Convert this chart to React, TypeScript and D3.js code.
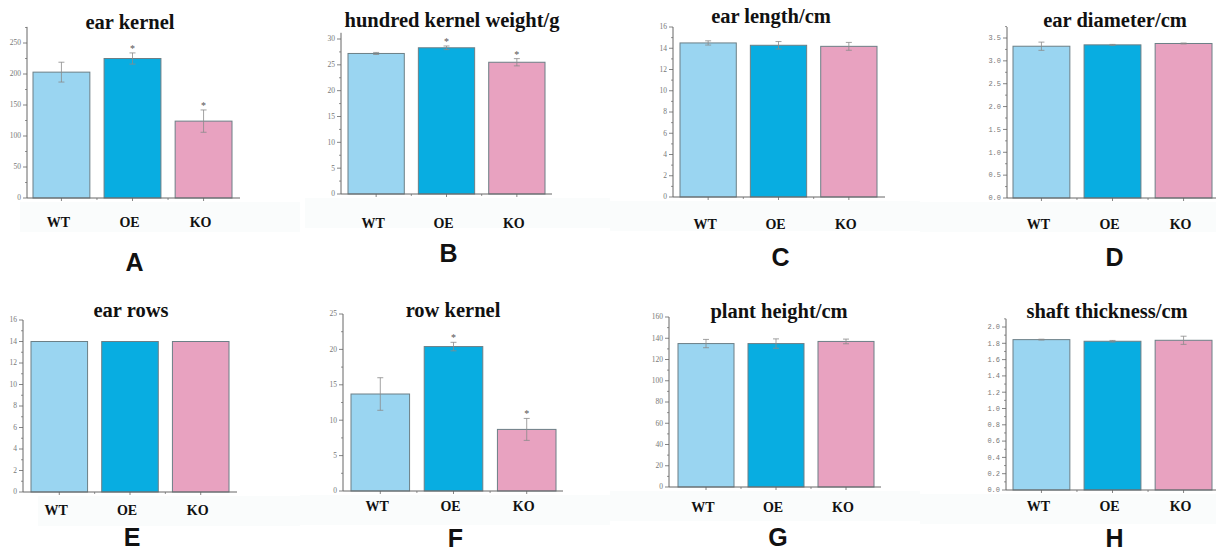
import React from "react";
import * as d3 from "d3";

// groups
const groups = ["WT", "OE", "KO"];

// values (mean and error)
const earKernel = [203, 225, 124];
const earKernelErr = [16, 9, 18];
const hundredWeight = [27.2, 28.3, 25.5];
const hundredWeightErr = [0.2, 0.35, 0.7];
const earLength = [14.5, 14.28, 14.18];
const earLengthErr = [0.2, 0.35, 0.37];
const earDiameter = [3.32, 3.35, 3.38];
const earDiameterErr = [0.09, 0.01, 0.01];
const earRows = [14, 14, 14];
const earRowsErr = [0, 0, 0];
const rowKernel = [13.7, 20.4, 8.7];
const rowKernelErr = [2.3, 0.6, 1.55];
const plantHeight = [135, 135, 137];
const plantHeightErr = [3.9, 4.4, 2.2];
const shaftThickness = [1.845, 1.825, 1.837];
const shaftThicknessErr = [0.005, 0.01, 0.05];

// significance marks
const starsA = [false, true, true];
const starsB = [false, true, true];
const starsF = [false, true, true];
const noStars = [false, false, false];

// y tick labels
const ticksA = [0, 50, 100, 150, 200, 250];
const ticksB = [0, 5, 10, 15, 20, 25, 30];
const ticks16 = [0, 2, 4, 6, 8, 10, 12, 14, 16];
const ticksD = [0, 0.5, 1, 1.5, 2, 2.5, 3, 3.5];
const ticksF = [0, 5, 10, 15, 20, 25];
const ticksG = [0, 20, 40, 60, 80, 100, 120, 140, 160];
const ticksH = [0, 0.2, 0.4, 0.6, 0.8, 1, 1.2, 1.4, 1.6, 1.8, 2];

const colors = ["#9ad5f1", "#08ade1", "#e8a2c0"];

type Panel = {
  title: string;
  letter: string;
  values: number[];
  errs: number[];
  stars: boolean[];
  ticks: number[];
  axisTop: number;
  mono: boolean;
  // layout
  axisX: number;
  xEnd: number;
  barL: number;
  barR: number;
  y0: number;
  yTop: number;
  titleX: number;
  titleY: number;
  labelY: number;
  letterY: number;
  bandL: number;
  bandR: number;
};

const panels: Panel[] = [
  { title: "ear kernel", letter: "A", values: earKernel, errs: earKernelErr, stars: starsA, ticks: ticksA, axisTop: 276, mono: false,
    axisX: 27, xEnd: 240, barL: 33, barR: 232, y0: 198, yTop: 43, titleX: 130, titleY: 29, labelY: 227, letterY: 271, bandL: 20, bandR: 300 },
  { title: "hundred kernel weight/g", letter: "B", values: hundredWeight, errs: hundredWeightErr, stars: starsB, ticks: ticksB, axisTop: 31.2, mono: false,
    axisX: 341, xEnd: 552, barL: 348, barR: 545, y0: 194, yTop: 39, titleX: 452, titleY: 27, labelY: 228, letterY: 262, bandL: 305, bandR: 610 },
  { title: "ear length/cm", letter: "C", values: earLength, errs: earLengthErr, stars: noStars, ticks: ticks16, axisTop: 16, mono: false,
    axisX: 673, xEnd: 885, barL: 680, barR: 877, y0: 197, yTop: 27, titleX: 771, titleY: 23, labelY: 229, letterY: 266, bandL: 610, bandR: 920 },
  { title: "ear diameter/cm", letter: "D", values: earDiameter, errs: earDiameterErr, stars: noStars, ticks: ticksD, axisTop: 3.74, mono: true,
    axisX: 1007, xEnd: 1216, barL: 1013, barR: 1212, y0: 198, yTop: 38, titleX: 1115, titleY: 27, labelY: 229, letterY: 266, bandL: 920, bandR: 1216 },
  { title: "ear rows", letter: "E", values: earRows, errs: earRowsErr, stars: noStars, ticks: ticks16, axisTop: 16, mono: false,
    axisX: 23, xEnd: 237, barL: 31, barR: 229, y0: 492, yTop: 320, titleX: 131, titleY: 317, labelY: 515, letterY: 546, bandL: 38, bandR: 300 },
  { title: "row kernel", letter: "F", values: rowKernel, errs: rowKernelErr, stars: starsF, ticks: ticksF, axisTop: 25, mono: false,
    axisX: 343, xEnd: 563, barL: 351, barR: 556, y0: 491, yTop: 314, titleX: 453, titleY: 317, labelY: 511, letterY: 547, bandL: 300, bandR: 610 },
  { title: "plant height/cm", letter: "G", values: plantHeight, errs: plantHeightErr, stars: noStars, ticks: ticksG, axisTop: 160, mono: false,
    axisX: 669, xEnd: 881, barL: 678, barR: 874, y0: 487, yTop: 317, titleX: 779, titleY: 318, labelY: 512, letterY: 546, bandL: 610, bandR: 920 },
  { title: "shaft thickness/cm", letter: "H", values: shaftThickness, errs: shaftThicknessErr, stars: noStars, ticks: ticksH, axisTop: 2.1, mono: true,
    axisX: 1006, xEnd: 1216, barL: 1013, barR: 1212, y0: 490, yTop: 327, titleX: 1107, titleY: 318, labelY: 511, letterY: 547, bandL: 920, bandR: 1216 },
];

const fmt = (p: Panel, v: number) => {
  if (p.mono) return v.toFixed(1);
  return String(v);
};

function BarPanel({ p }: { p: Panel }) {
  const x = d3.scaleBand<string>().domain(groups).range([p.barL, p.barR]).paddingInner(0.2).paddingOuter(0);
  const maxTick = p.ticks[p.ticks.length - 1];
  const y = d3.scaleLinear().domain([0, maxTick]).range([p.y0, p.yTop]);
  const step = p.ticks[1] - p.ticks[0];
  const minor = p.ticks.slice(0, -1).map((t) => t + step / 2);
  if (p.axisTop > maxTick + step / 4) minor.push(maxTick + step / 2);
  const bw = x.bandwidth();
  const xMinor = [1, 2].map((i) => (x(groups[i - 1])! + bw + x(groups[i])!) / 2);
  const axisColor = "#666";

  return (
    <g>
      <rect x={p.bandL} y={p.y0 + 4} width={p.bandR - p.bandL} height={30} fill="#fafcfc" />
      <text x={p.titleX} y={p.titleY} textAnchor="middle" fontFamily="'Liberation Serif', serif" fontWeight="bold" fontSize={20.5} fill="#111">
        {p.title}
      </text>
      {groups.map((g, i) => (
        <rect key={g} x={x(g)} y={y(p.values[i])} width={bw} height={p.y0 - y(p.values[i])}
          fill={colors[i]} stroke="#6c7f86" strokeWidth={1} />
      ))}
      {groups.map((g, i) => {
        const cx = x(g)! + bw / 2;
        const e = p.errs[i];
        if (e <= 0) return null;
        const top = y(p.values[i] + e);
        const bot = y(p.values[i] - e);
        return (
          <g key={g} stroke="#8a8a8a" strokeWidth={0.8}>
            <line x1={cx} x2={cx} y1={top} y2={bot} />
            <line x1={cx - 3} x2={cx + 3} y1={top} y2={top} />
            <line x1={cx - 3} x2={cx + 3} y1={bot} y2={bot} />
          </g>
        );
      })}
      {groups.map((g, i) =>
        p.stars[i] ? (
          <text key={g} x={x(g)! + bw / 2} y={y(p.values[i] + p.errs[i]) - 1} textAnchor="middle"
            fontFamily="'Liberation Serif', serif" fontSize={10} fill="#555">
            *
          </text>
        ) : null
      )}
      {/* y axis */}
      <line x1={p.axisX} x2={p.axisX} y1={y(p.axisTop)} y2={p.y0} stroke={axisColor} strokeWidth={1} />
      {p.ticks.map((t) => (
        <g key={t}>
          <line x1={p.axisX - 4} x2={p.axisX} y1={y(t)} y2={y(t)} stroke={axisColor} strokeWidth={0.8} />
          <text x={p.axisX - 6} y={y(t)} dy="0.33em" textAnchor="end"
            fontFamily={p.mono ? "'Liberation Mono', monospace" : "'Liberation Serif', serif"}
            fontSize={p.mono ? 7 : 7.5} fill="#777">
            {fmt(p, t)}
          </text>
        </g>
      ))}
      {minor.map((t) => (
        <line key={t} x1={p.axisX - 2} x2={p.axisX} y1={y(t)} y2={y(t)} stroke={axisColor} strokeWidth={0.7} />
      ))}
      {/* x axis */}
      <line x1={p.axisX} x2={p.xEnd} y1={p.y0} y2={p.y0} stroke={axisColor} strokeWidth={1} />
      {groups.map((g) => (
        <line key={g} x1={x(g)! + bw / 2} x2={x(g)! + bw / 2} y1={p.y0} y2={p.y0 + 3} stroke={axisColor} strokeWidth={0.8} />
      ))}
      {xMinor.map((m) => (
        <line key={m} x1={m} x2={m} y1={p.y0} y2={p.y0 + 2} stroke={axisColor} strokeWidth={0.7} />
      ))}
      {groups.map((g) => (
        <text key={g} x={x(g)! + bw / 2 - 3} y={p.labelY} textAnchor="middle" fontFamily="'Liberation Serif', serif"
          fontWeight="bold" fontSize={14} fill="#111">
          {g}
        </text>
      ))}
      <text x={(p.barL + p.barR) / 2 + 2} y={p.letterY} textAnchor="middle" fontFamily="'Liberation Sans', Arial, sans-serif"
        fontWeight="bold" fontSize={25} fill="#111">
        {p.letter}
      </text>
    </g>
  );
}

export default function App() {
  return (
    <svg width={1216} height={553} style={{ position: "absolute", left: 0, top: 0, background: "#fff" }}>
      {panels.map((p) => (
        <BarPanel key={p.letter} p={p} />
      ))}
    </svg>
  );
}
